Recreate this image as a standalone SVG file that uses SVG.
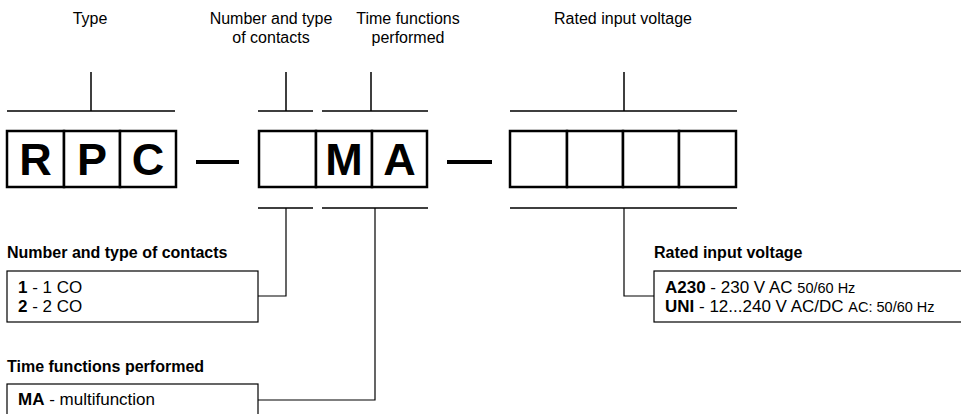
<svg xmlns="http://www.w3.org/2000/svg" width="961" height="414" viewBox="0 0 961 414">
<style>
text{font-family:"Liberation Sans",Arial,sans-serif;fill:#000}
.hd{font-size:16px;text-anchor:middle}
.lb{font-size:16px;font-weight:bold}
.it{font-size:17px}
.sm{font-size:14.5px}
.big{font-size:45px;font-weight:bold;text-anchor:middle}
.cell{fill:#fff;stroke:#000;stroke-width:2.5}
.br{fill:none;stroke:#000;stroke-width:1.5}
.cn{fill:none;stroke:#000;stroke-width:1.2}
.bx{fill:#fff;stroke:#000;stroke-width:1.2}
.dash{stroke:#000;stroke-width:4}
</style>
<g id="headers">
<text class="hd" x="90" y="24">Type</text>
<text class="hd" x="271" y="24">Number and type</text>
<text class="hd" x="271" y="43">of contacts</text>
<text class="hd" x="408" y="24">Time functions</text>
<text class="hd" x="408" y="43">performed</text>
<text class="hd" x="623" y="24">Rated input voltage</text>
</g>
<g id="code-type">
<rect class="cell" x="7" y="131" width="57" height="56"/>
<rect class="cell" x="64" y="131" width="56" height="56"/>
<rect class="cell" x="120" y="131" width="56" height="56"/>
<text class="big" x="35.5" y="175">R</text>
<text class="big" x="92" y="175">P</text>
<text class="big" x="148" y="175">C</text>
</g>
<g id="code-contacts-functions">
<rect class="cell" x="259" y="131" width="57" height="56"/>
<rect class="cell" x="316" y="131" width="56" height="56"/>
<rect class="cell" x="372" y="131" width="55" height="56"/>
<text class="big" x="344" y="175">M</text>
<text class="big" x="399.5" y="175">A</text>
</g>
<g id="code-voltage">
<rect class="cell" x="510" y="131" width="57" height="56"/>
<rect class="cell" x="567" y="131" width="56" height="56"/>
<rect class="cell" x="623" y="131" width="56" height="56"/>
<rect class="cell" x="679" y="131" width="57" height="56"/>
</g>
<g id="dashes">
<line class="dash" x1="196" y1="162" x2="239" y2="162"/>
<line class="dash" x1="447" y1="162" x2="492" y2="162"/>
</g>
<g id="box-contacts">
<text class="lb" x="7" y="258">Number and type of contacts</text>
<rect class="bx" x="7" y="271" width="251" height="51"/>
<text class="it" x="18" y="293"><tspan font-weight="bold">1</tspan> - 1 CO</text>
<text class="it" x="18" y="312"><tspan font-weight="bold">2</tspan> - 2 CO</text>
</g>
<g id="box-functions">
<text class="lb" x="7" y="372">Time functions performed</text>
<rect class="bx" x="7" y="384" width="251" height="40"/>
<text class="it" x="18" y="405"><tspan font-weight="bold">MA</tspan> - multifunction</text>
</g>
<g id="box-voltage">
<text class="lb" x="654" y="258">Rated input voltage</text>
<rect class="bx" x="654" y="271" width="320" height="51"/>
<text class="it" x="665" y="293"><tspan font-weight="bold">A230</tspan> - 230 V AC <tspan class="sm">50/60 Hz</tspan></text>
<text class="it" x="665" y="312"><tspan font-weight="bold">UNI</tspan> - 12...240 V AC/DC <tspan class="sm">AC: 50/60 Hz</tspan></text>
</g>
<g id="connectors">
<path class="br" d="M7 111H175M91 72V111"/>
<path class="br" d="M258 111H313M286 72V111"/>
<path class="br" d="M322 111H428M371 72V111"/>
<path class="br" d="M510 111H737M624 72V111"/>
<path class="br" d="M258 208H313M322 208H428M510 208H737"/>
<path class="cn" d="M258 296H286V208"/>
<path class="cn" d="M258 400H375V208"/>
<path class="cn" d="M654 296H624V208"/>
</g>
</svg>
